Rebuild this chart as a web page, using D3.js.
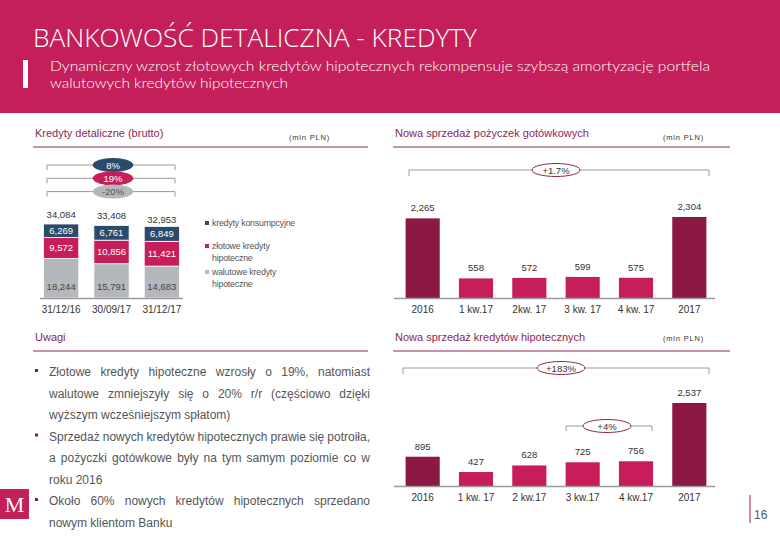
<!DOCTYPE html>
<html><head><meta charset="utf-8">
<script src="https://cdn.jsdelivr.net/npm/d3@7"></script>
<style>body{margin:0;background:#fff}svg{display:block}</style>
</head><body>
<script>
// ---------- DATA ----------
const stackDates = ["31/12/16", "30/09/17", "31/12/17"];
const consumerLoans = [6269, 6761, 6849];
const plnMortgages = [9572, 10856, 11421];
const fxMortgages = [18244, 15791, 14683];
const stackTotals = [34084, 33408, 32953];
const stackChanges = ["8%", "19%", "-20%"];
const legendLabels = [["kredyty konsumpcyjne"], ["złotowe kredyty", "hipoteczne"], ["walutowe kredyty", "hipoteczne"]];

const cashCats = ["2016", "1 kw.17", "2kw. 17", "3 kw. 17", "4 kw. 17", "2017"];
const cashValues = [2265, 558, 572, 599, 575, 2304];
const cashLabels = ["2,265", "558", "572", "599", "575", "2,304"];

const mortCats = ["2016", "1 kw. 17", "2 kw.17", "3 kw.17", "4 kw.17", "2017"];
const mortValues = [895, 427, 628, 725, 756, 2537];
const mortLabels = ["895", "427", "628", "725", "756", "2,537"];

const notes = [
  ["Złotowe kredyty hipoteczne wzrosły o 19%, natomiast", "walutowe zmniejszyły się o 20% r/r (częściowo dzięki", "wyższym wcześniejszym spłatom)"],
  ["Sprzedaż nowych kredytów hipotecznych prawie się potroiła,", "a pożyczki gotówkowe były na tym samym poziomie co w", "roku 2016"],
  ["Około 60% nowych kredytów hipotecznych sprzedano", "nowym klientom Banku"]
];

// ---------- STYLE ----------
const C = {header:"#C41F5A", navy:"#2C4B6A", pink:"#C71E5B", grey:"#B4B8BC", maroon:"#8C1844", title:"#8B2658", text:"#444", axis:"#9a9a9a"};
const F = "'Liberation Sans', Arial, sans-serif";

const svg = d3.select("body").append("svg").attr("width",780).attr("height",540);

// Header
svg.append("rect").attr("x",0).attr("y",0).attr("width",780).attr("height",113).attr("fill",C.header);
svg.append("text").attr("x",33).attr("y",47).attr("fill","#fff").attr("font-family","'Open Sans', sans-serif").attr("font-weight",300).attr("font-size",26).attr("textLength",444).attr("lengthAdjust","spacingAndGlyphs").text("BANKOWOŚĆ DETALICZNA - KREDYTY");
svg.append("rect").attr("x",23).attr("y",60).attr("width",5).attr("height",28).attr("fill","#fff");
svg.append("text").attr("x",50).attr("y",71).attr("fill","#fff").attr("font-family","Lato, sans-serif").attr("font-weight",300).attr("font-size",14)
  .attr("textLength",660).attr("lengthAdjust","spacingAndGlyphs")
  .text("Dynamiczny wzrost złotowych kredytów hipotecznych rekompensuje szybszą amortyzację portfela");
svg.append("text").attr("x",50).attr("y",88).attr("fill","#fff").attr("font-family","Lato, sans-serif").attr("font-weight",300).attr("font-size",14)
  .attr("textLength",238).attr("lengthAdjust","spacingAndGlyphs")
  .text("walutowych kredytów hipotecznych");

// Section headers
function section(x, y, x2, title, unit, unitX, unitY) {
  svg.append("text").attr("x",x+2).attr("y",y).attr("fill",C.title).attr("font-family",F).attr("font-size",11).text(title);
  if (unit) svg.append("text").attr("x",unitX).attr("y",unitY||y+3).attr("fill","#333").attr("font-family",F).attr("font-size",7.5).attr("letter-spacing",0.8).text(unit);
  svg.append("line").attr("x1",x).attr("x2",x2).attr("y1",y+10).attr("y2",y+10).attr("stroke",C.title).attr("stroke-width",1);
}
section(33,137,368,"Kredyty detaliczne (brutto)","(mln PLN)",289,140);
section(393,137,730,"Nowa sprzedaż pożyczek gotówkowych","(mln PLN)",663,140);
section(33,341,368,"Uwagi",null);
section(393,341,730,"Nowa sprzedaż kredytów hipotecznych","(mln PLN)",663,341);

function bracket(x1, x2, y, tick, cx, rx, label, fill, stroke, txtCol) {
  const g = svg.append("g");
  g.append("path").attr("d",`M${x1},${y+tick}V${y}H${x2}V${y+tick}`).attr("fill","none").attr("stroke","#999").attr("stroke-width",1);
  g.append("ellipse").attr("cx",cx).attr("cy",y).attr("rx",rx).attr("ry",6.5).attr("fill",fill).attr("stroke",stroke).attr("stroke-width",1);
  g.append("text").attr("x",cx).attr("y",y+3.5).attr("text-anchor","middle").attr("fill",txtCol).attr("font-family",F).attr("font-size",9.5).text(label);
}

// ---------- LEFT STACKED CHART ----------
const xs = d3.scaleBand().domain(stackDates).range([41,182]).paddingInner(0.3).paddingOuter(0.05);
const ys = d3.scaleLinear().domain([0, 34084]).range([298, 224]);
const rows = stackDates.map((d,i)=>({date:d, fx:fxMortgages[i], pln:plnMortgages[i], cons:consumerLoans[i], total:stackTotals[i]}));
const stack = d3.stack().keys(["fx","pln","cons"])(rows);
const segColors = {fx:C.grey, pln:C.pink, cons:C.navy};
const gs = svg.append("g");
stack.forEach(layer => {
  gs.selectAll(null).data(layer).join("rect")
    .attr("x",d=>xs(d.data.date)).attr("width",xs.bandwidth())
    .attr("y",d=>ys(d[1])).attr("height",d=>ys(d[0])-ys(d[1]))
    .attr("fill",segColors[layer.key]).attr("stroke","#fff").attr("stroke-width",0.8);
  gs.selectAll(null).data(layer).join("text")
    .attr("x",d=>xs(d.data.date)+xs.bandwidth()/2)
    .attr("y",d=> layer.key==="fx" ? ys(d[0])-8 : (ys(d[0])+ys(d[1]))/2+3.5)
    .attr("text-anchor","middle").attr("font-family",F).attr("font-size",9.5)
    .attr("fill", layer.key==="fx" ? "#444" : "#fff")
    .text(d=>d3.format(",")(d.data[layer.key]));
});
gs.selectAll(null).data(rows).join("text")
  .attr("x",d=>xs(d.date)+xs.bandwidth()/2).attr("y",(d,i)=>ys(d.total)-6 + (i===2?3:0))
  .attr("text-anchor","middle").attr("font-family",F).attr("font-size",9.5).attr("fill","#333")
  .text(d=>d3.format(",")(d.total));
gs.append("line").attr("x1",40).attr("x2",183).attr("y1",298.5).attr("y2",298.5).attr("stroke",C.axis).attr("stroke-width",1.5);
gs.selectAll(null).data(stackDates).join("text")
  .attr("x",d=>xs(d)+xs.bandwidth()/2).attr("y",313).attr("text-anchor","middle")
  .attr("font-family",F).attr("font-size",10).attr("fill","#333").text(d=>d);
const chColors = [[C.navy,"#fff"],[C.pink,"#fff"],[C.grey,"#555"]];
stackChanges.forEach((c,i)=>{
  bracket(47,175,165+13.3*i,5,113,20,c,chColors[i][0],chColors[i][0],chColors[i][1]);
});
// legend
const legCol = [C.navy, C.pink, C.grey];
const legY = [226, 249, 275];
legendLabels.forEach((lines,i)=>{
  svg.append("rect").attr("x",205).attr("y",legY[i]-5).attr("width",4).attr("height",4).attr("fill",legCol[i]);
  lines.forEach((t,j)=>svg.append("text").attr("x",212).attr("y",legY[i]+j*11.5).attr("font-family",F).attr("font-size",8.8).attr("fill","#555").attr("letter-spacing",-0.2).text(t));
});

// ---------- RIGHT BAR CHARTS ----------
function barChart(cats, vals, labels, y0, vmaxPx) {
  const x = d3.scaleBand().domain(cats).range([396,716]).paddingInner(0.36).paddingOuter(0.18);
  const y = d3.scaleLinear().domain([0, d3.max(vals)]).range([y0, y0 - vmaxPx]);
  const g = svg.append("g");
  g.selectAll(null).data(vals).join("rect")
    .attr("x",(d,i)=>x(cats[i])).attr("width",x.bandwidth())
    .attr("y",d=>y(d)).attr("height",d=>y0-y(d))
    .attr("fill",(d,i)=> (i===0||i===cats.length-1) ? C.maroon : C.pink);
  g.selectAll(null).data(vals).join("text")
    .attr("x",(d,i)=>x(cats[i])+x.bandwidth()/2).attr("y",d=>y(d)-7)
    .attr("text-anchor","middle").attr("font-family",F).attr("font-size",9.5).attr("fill","#333")
    .text((d,i)=>labels[i]);
  g.append("line").attr("x1",394).attr("x2",715).attr("y1",y0+0.5).attr("y2",y0+0.5).attr("stroke",C.axis).attr("stroke-width",1.5);
  g.selectAll(null).data(cats).join("text")
    .attr("x",d=>x(d)+x.bandwidth()/2).attr("y",y0+15).attr("text-anchor","middle")
    .attr("font-family",F).attr("font-size",10).attr("fill","#333").text(d=>d);
  return {x,y};
}
barChart(cashCats, cashValues, cashLabels, 298, 81);
bracket(409,709,170,6,556,24,"+1.7%","#fff",C.title,"#333");
barChart(mortCats, mortValues, mortLabels, 486, 83);
bracket(403,709,368,6,561,24,"+183%","#fff",C.title,"#333");
bracket(566,652,426,5,607,24,"+4%","#fff",C.title,"#333");

// ---------- NOTES ----------
const noteX = 49, noteW = 321, lineH = 21.5, noteFS = 12;
let ly = 376;
const measurer = svg.append("text").attr("font-family",F).attr("font-size",noteFS).attr("visibility","hidden");
function tw(s){ measurer.text(s); return measurer.node().getComputedTextLength(); }
const spaceW = tw("a a") - tw("aa");
notes.forEach(lines=>{
  svg.append("rect").attr("x",35).attr("y",ly-7).attr("width",3).attr("height",3).attr("fill",C.maroon);
  lines.forEach((line,li)=>{
    const ws = line.split(" ");
    const last = li===lines.length-1;
    const widths = ws.map(tw);
    const total = d3.sum(widths);
    let gap = (!last && ws.length>1) ? (noteW - total)/(ws.length-1) : spaceW;
    let scale = 1;
    if (gap < 2) { gap = 2; scale = (noteW - gap*(ws.length-1))/total; }
    let xx = noteX;
    ws.forEach((w,k)=>{
      const t = svg.append("text").attr("x",xx).attr("y",ly).attr("font-family",F).attr("font-size",noteFS).attr("fill","#555").text(w);
      if (scale !== 1) t.attr("textLength",widths[k]*scale).attr("lengthAdjust","spacingAndGlyphs");
      xx += widths[k]*scale + gap;
    });
    ly += lineH;
  });
});
measurer.remove();

// ---------- LOGO & PAGE ----------
svg.append("rect").attr("x",0).attr("y",489).attr("width",29).attr("height",30).attr("fill",C.header);
svg.append("text").attr("x",14.5).attr("y",512).attr("text-anchor","middle").attr("fill","#fff").attr("font-family","'Liberation Serif', serif").attr("font-size",22).text("M");
svg.append("line").attr("x1",750).attr("x2",750).attr("y1",495).attr("y2",523).attr("stroke","#D88AA6").attr("stroke-width",2);
svg.append("text").attr("x",754).attr("y",519).attr("fill","#555").attr("font-family",F).attr("font-size",12).text("16");
</script>
</body></html>
